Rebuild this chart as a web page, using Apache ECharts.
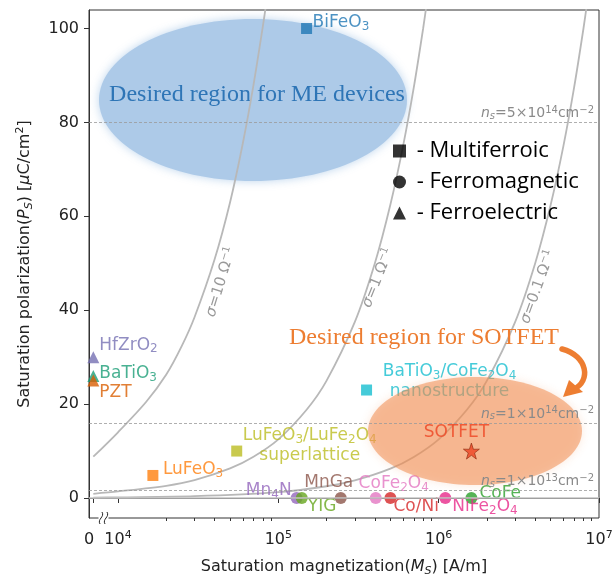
<!DOCTYPE html>
<html><head><meta charset="utf-8">
<script src="https://cdn.jsdelivr.net/npm/echarts@6/dist/echarts.min.js"></script>
<style>html,body{margin:0;padding:0;background:#fff}#c{width:613px;height:574px}</style>
</head><body><div id="c"></div>
<script>
// ---------- data ----------
const xDecades = [4, 5, 6, 7];
const xMinorMultipliers = [2, 3, 4, 5, 6, 7, 8, 9];
const yTicks = [0, 20, 40, 60, 80, 100];

const multiferroicNames = ['BiFeO3', 'LuFeO3', 'LuFeO3/LuFe2O4\nsuperlattice', 'BaTiO3/CoFe2O4\nnanostructure'];
const multiferroicMs = [1.5e5, 1.65e4, 5.5e4, 3.55e5];
const multiferroicPs = [100, 4.8, 10, 23];

const ferromagNames = ['Mn4N', 'YIG', 'MnGa', 'CoFe2O4', 'Co/Ni', 'NiFe2O4', 'CoFe'];
const ferromagMs = [1.3e5, 1.4e5, 2.45e5, 4.05e5, 5.0e5, 1.1e6, 1.6e6];
const ferromagPs = [0, 0, 0, 0, 0, 0, 0];

const ferroelecNames = ['HfZrO2', 'BaTiO3', 'PZT'];
const ferroelecMs = [0, 0, 0];
const ferroelecPs = [30, 26, 25];

const sotfetNames = ['SOTFET'];
const sotfetMs = [1.6e6];
const sotfetPs = [10];

const sigmaNames = ['10', '1', '0.1'];
const sigma10M = [0, 1e4, 1.5e4, 2e4, 2.5e4, 3e4, 4e4, 5e4, 6e4, 7e4, 8e4, 8.5e4];
const sigma10P = [8.8, 14, 20.5, 26.3, 32.4, 38.5, 50.8, 63, 75.5, 88, 100.4, 106.6];
const sigma1M = [0, 1e4, 2e4, 3e4, 5e4, 7e4, 1e5, 1.5e5, 2e5, 3e5, 4e5, 5e5, 6e5, 7e5, 8e5, 8.5e5];
const sigma1P = [0.9, 1.4, 2.6, 3.8, 6.3, 8.8, 12.5, 18.8, 25, 37.5, 50, 62.5, 75, 87.5, 100, 106.3];
const sigma01M = [0, 1e4, 3e4, 1e5, 2e5, 3e5, 5e5, 7e5, 1e6, 1.5e6, 2e6, 3e6, 4e6, 5e6, 6e6, 7e6, 8e6, 8.5e6];
const sigma01P = [0.09, 0.15, 0.39, 1.25, 2.5, 3.75, 6.25, 8.75, 12.5, 18.8, 25, 37.5, 50, 62.5, 75, 87.5, 100, 106.3];

const nsLevels = [80, 16, 1.6];
const nsMantissa = ['5', '1', '1'];
const nsExponent = ['14', '14', '13'];

// ---------- styles / layout ----------
const ZERO_POS = 3.846;      // axis position used for M = 0 (left of axis break)
const X_MIN = 3.819, X_MAX = 7;
const Y_MIN = -4.26, Y_MAX = 103.94;
const FONT = '"DejaVu Sans"';

const multiferroicColors = ['#1f77b4', '#ff7f0e', '#bcbd22', '#17becf'];
const ferromagColors = ['#9467bd', '#66a61e', '#8c564b', '#e377c2', '#d62728', '#e7298a', '#2ca02c'];
const ferroelecColors = ['#7570b3', '#1b9e77', '#d95f02'];
const sotfetColors = ['#ee4422'];

// [align, dx, dy] relative to marker centre
const multiferroicPlace = [['left', 6, -6], ['left', 10, -6], ['center', 73, -5], ['center', 83, -8]];
const ferromagPlace = [['right', -5, -7], ['left', 6, 9], ['center', -12, -15], ['center', 18, -14], ['left', 3, 9], ['left', 7, 9], ['left', 8, -4]];
const ferroelecPlace = [['left', 6, -12], ['left', 6, -2], ['left', 6, 12]];
const sotfetPlace = [['center', -15, -18]];

function xpos(m) { return m > 0 ? Math.log10(m) : ZERO_POS; }
function fmtChem(s) { return s.replace(/(\d)/g, '{sub|$1}'); }

const labelRich = {
  sub: { fontSize: 12, lineHeight: 12, padding: [8, 0, 0, 0], fontFamily: FONT }
};

function pointItems(names, Ms, Ps, colors, place) {
  return names.map((n, i) => ({
    name: n,
    value: [xpos(Ms[i]), Ps[i]],
    itemStyle: { color: colors[i] },
    label: {
      formatter: fmtChem(n), color: colors[i],
      align: place[i][0], offset: [place[i][1], place[i][2]]
    }
  }));
}
function curve(Ms, Ps) { return Ms.map((m, i) => [xpos(m), Ps[i]]); }

const baseLabel = {
  show: true, position: 'inside', verticalAlign: 'middle',
  fontFamily: FONT, fontSize: 17, lineHeight: 20, rich: labelRich
};

const minorTicks = [];
xDecades.slice(0, 3).forEach(d => xMinorMultipliers.forEach(m => minorTicks.push(Math.log10(m) + d)));

const curveStyle = { color: '#b8b8b8', width: 1.8 };
const starPath = 'path://M50,0 L61.8,35.1 L97.6,34.5 L68.8,56.2 L79.4,90.5 L50,69.5 L20.6,90.5 L31.2,56.2 L2.4,34.5 L38.2,35.1 Z';

const nsRich = {
  i: { fontStyle: 'italic', fontSize: 14, lineHeight: 16, fontFamily: FONT, color: '#8a8a8a' },
  sub: { fontStyle: 'italic', fontSize: 10, lineHeight: 10, padding: [6, 0, 0, 0], fontFamily: FONT, color: '#8a8a8a' },
  sup: { fontSize: 10, lineHeight: 10, padding: [0, 0, 6, 0], fontFamily: FONT, color: '#8a8a8a' }
};

const markLineData = [{
  yAxis: 0, lineStyle: { type: 'solid', color: '#c4c4c4', width: 1.5 }, label: { show: false }
}].concat(nsLevels.map((v, i) => ({
  yAxis: v,
  lineStyle: { type: [3, 2], color: '#9a9a9a', width: 0.8 },
  label: {
    show: true, position: 'insideEndTop', distance: [5, 1],
    formatter: '{i|n}{sub|s}=' + nsMantissa[i] + '×10{sup|' + nsExponent[i] + '}cm{sup|−2}',
    fontFamily: FONT, fontSize: 14, lineHeight: 16, color: '#8a8a8a', rich: nsRich
  }
})));

const axisRich = {
  b: { fontSize: 16, lineHeight: 20, fontFamily: FONT, color: '#222' },
  sup: { fontSize: 11, lineHeight: 11, padding: [0, 0, 9, 0], fontFamily: FONT, color: '#222' }
};
const nameRich = {
  i: { fontStyle: 'italic', fontSize: 16, lineHeight: 20, fontFamily: FONT, color: '#222' },
  sub: { fontStyle: 'italic', fontSize: 11, lineHeight: 11, padding: [9, 0, 0, 0], fontFamily: FONT, color: '#222' },
  sup: { fontSize: 11, lineHeight: 11, padding: [0, 0, 9, 0], fontFamily: FONT, color: '#222' }
};

const chart = echarts.init(document.getElementById('c'), null, { renderer: 'canvas' });

const sigmaCurves = [curve(sigma10M, sigma10P), curve(sigma1M, sigma1P), curve(sigma01M, sigma01P)];
const sigmaLabelPos = [[221, 282, 73], [378, 278, 68], [538, 287, 70]];

const graphics = [
  { type: 'ellipse', z: 0, silent: true, shape: { cx: 253, cy: 100, rx: 154, ry: 81 },
    style: { fill: '#adcae8', shadowBlur: 10, shadowColor: 'rgba(173,202,232,0.8)' } },
  { type: 'text', z: 1, silent: true, x: 257, y: 95,
    style: { text: 'Desired region for ME devices', fontFamily: '"Liberation Serif"', fontSize: 24,
      fill: '#2e75b6', align: 'center', verticalAlign: 'middle', shadowBlur: 4, shadowColor: '#fff' } },
  { type: 'ellipse', z: 3, silent: true, shape: { cx: 475, cy: 431, rx: 107, ry: 54 },
    style: { fill: 'rgba(240,140,80,0.55)', shadowBlur: 10, shadowColor: 'rgba(240,140,80,0.35)' } },
  { type: 'text', z: 3, silent: true, x: 424, y: 338,
    style: { text: 'Desired region for SOTFET', fontFamily: '"Liberation Serif"', fontSize: 24,
      fill: '#ed7d31', align: 'center', verticalAlign: 'middle' } },
  { type: 'bezierCurve', z: 3, silent: true,
    shape: { x1: 562, y1: 349, cpx1: 588, cpy1: 356, cpx2: 591, cpy2: 381, x2: 574, y2: 389 },
    style: { stroke: '#ed7d31', lineWidth: 5.5, fill: null, lineCap: 'round' } },
  { type: 'polygon', z: 3, silent: true, shape: { points: [[563, 397], [569, 380], [583, 392]] },
    style: { fill: '#ed7d31' } },
  // axis break mark
  { type: 'rect', z: 100, silent: true, shape: { x: 98.5, y: 513, width: 10, height: 10 }, style: { fill: '#fff' } },
  { type: 'bezierCurve', z: 101, silent: true,
    shape: { x1: 100, y1: 524, cpx1: 97, cpy1: 519, cpx2: 105, cpy2: 517, x2: 102, y2: 512 },
    style: { stroke: '#222', lineWidth: 1, fill: null } },
  { type: 'bezierCurve', z: 101, silent: true,
    shape: { x1: 105, y1: 524, cpx1: 102, cpy1: 519, cpx2: 110, cpy2: 517, x2: 107, y2: 512 },
    style: { stroke: '#222', lineWidth: 1, fill: null } }
].concat(sigmaNames.map((s, i) => ({
  type: 'text', z: 2, silent: true, x: sigmaLabelPos[i][0], y: sigmaLabelPos[i][1],
  rotation: sigmaLabelPos[i][2] * Math.PI / 180,
  style: {
    text: '{i|σ}=' + s + ' Ω{sup|−1}', fontFamily: FONT, fontSize: 15, lineHeight: 18, fill: '#9a9a9a',
    align: 'center', verticalAlign: 'middle',
    rich: {
      i: { fontStyle: 'italic', fontFamily: FONT, fontSize: 15, lineHeight: 18, fill: '#9a9a9a' },
      sup: { fontFamily: FONT, fontSize: 10, lineHeight: 10, padding: [0, 0, 8, 0], fill: '#9a9a9a' }
    }
  }
})));

const option = {
  animation: false,
  backgroundColor: '#fff',
  grid: { left: 89, right: 14, top: 10, bottom: 56, outerBoundsMode: 'none', containLabel: false,
    show: true, borderColor: '#333', borderWidth: 1, backgroundColor: 'transparent' },
  legend: {
    orient: 'vertical', left: 393, top: 140, padding: 0,
    itemWidth: 13, itemHeight: 13, itemGap: 9, selectedMode: false,
    formatter: ' {name}',
    textStyle: { fontFamily: '"Open Sans"', fontSize: 22, lineHeight: 22, color: '#000' },
    data: [{ name: '- Multiferroic', icon: 'rect' }, { name: '- Ferromagnetic', icon: 'circle' }, { name: '- Ferroelectric', icon: 'triangle' }]
  },
  xAxis: [{
    type: 'value', min: X_MIN, max: X_MAX, position: 'bottom',
    name: 'Saturation magnetization({i|M}{sub|S}) [A/m]', nameLocation: 'middle', nameGap: 39,
    nameTextStyle: { fontFamily: FONT, fontSize: 16, lineHeight: 20, color: '#222', rich: nameRich },
    axisLine: { show: true, lineStyle: { color: '#333', width: 1 } },
    axisTick: { show: true, length: 5, lineStyle: { color: '#333' }, customValues: [ZERO_POS].concat(xDecades) },
    axisLabel: {
      show: true, margin: 12, customValues: [X_MIN + 0.001].concat(xDecades),
      formatter: v => v < 3.9 ? '{b|0}' : '{b|10}{sup|' + Math.round(v) + '}',
      rich: axisRich
    },
    splitLine: { show: false }
  }, {
    type: 'value', min: X_MIN, max: X_MAX, position: 'bottom',
    axisLine: { show: false },
    axisTick: { show: true, length: 3, lineStyle: { color: '#333' }, customValues: minorTicks },
    axisLabel: { show: false },
    splitLine: { show: false }
  }],
  yAxis: {
    type: 'value', min: Y_MIN, max: Y_MAX,
    name: 'Saturation polarization({i|P}{sub|S}) [{i|μ}C/cm{sup|2}]', nameLocation: 'middle', nameGap: 54,
    nameTextStyle: { fontFamily: FONT, fontSize: 16, lineHeight: 20, color: '#222', rich: nameRich },
    axisLine: { show: true, lineStyle: { color: '#333', width: 1 } },
    axisTick: { show: true, length: 5, lineStyle: { color: '#333' }, customValues: yTicks },
    axisLabel: { show: true, margin: 10, customValues: yTicks, fontFamily: FONT, fontSize: 16, color: '#222' },
    splitLine: { show: false }
  },
  graphic: { elements: graphics },
  series: sigmaCurves.map((d, i) => ({
    type: 'line', name: 'sigma' + sigmaNames[i], data: d, smooth: 0.3, symbol: 'none', silent: true, z: 1,
    lineStyle: curveStyle
  })).concat([{
    type: 'line', name: 'levels', data: [], z: 4, silent: true,
    markLine: { silent: true, symbol: 'none', animation: false, data: markLineData }
  }, {
    type: 'scatter', name: '- Multiferroic', symbol: 'rect', symbolSize: 11, z: 2,
    itemStyle: { color: '#000' }, label: baseLabel,
    data: pointItems(multiferroicNames, multiferroicMs, multiferroicPs, multiferroicColors, multiferroicPlace)
  }, {
    type: 'scatter', name: '- Ferromagnetic', symbol: 'circle', symbolSize: 12, z: 2,
    itemStyle: { color: '#000' }, label: baseLabel,
    data: pointItems(ferromagNames, ferromagMs, ferromagPs, ferromagColors, ferromagPlace)
  }, {
    type: 'scatter', name: '- Ferroelectric', symbol: 'triangle', symbolSize: 12, z: 2,
    itemStyle: { color: '#000' }, label: baseLabel,
    data: pointItems(ferroelecNames, ferroelecMs, ferroelecPs, ferroelecColors, ferroelecPlace)
  }, {
    type: 'scatter', name: 'SOTFET', symbol: starPath, symbolSize: 16, z: 5,
    itemStyle: { color: '#e8401c', borderColor: '#8b2a10', borderWidth: 0.8 }, label: baseLabel,
    data: pointItems(sotfetNames, sotfetMs, sotfetPs, sotfetColors, sotfetPlace)
  }])
};
chart.setOption(option);
</script>
</body></html>
